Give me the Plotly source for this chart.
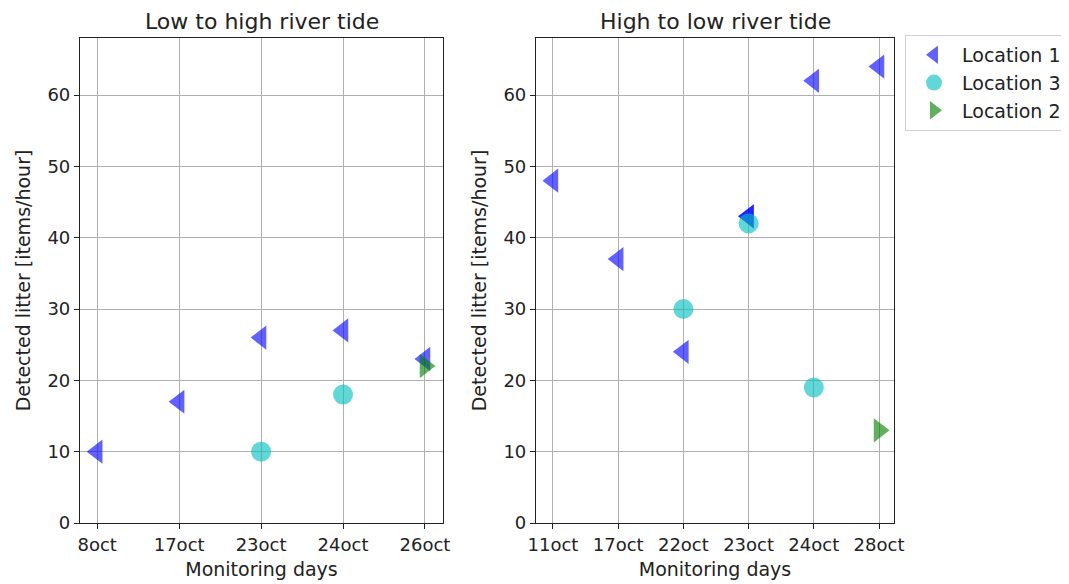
import plotly.graph_objects as go

# ---- data ----
left_days = ["8oct", "17oct", "23oct", "24oct", "26oct"]
right_days = ["11oct", "17oct", "22oct", "23oct", "24oct", "28oct"]

left_loc1_x = ["8oct", "17oct", "23oct", "24oct", "26oct"]
left_loc1_y = [10, 17, 26, 27, 23]
left_loc3_x = ["23oct", "24oct"]
left_loc3_y = [10, 18]
left_loc2_x = ["26oct"]
left_loc2_y = [22]

right_loc1_x = ["11oct", "17oct", "22oct", "23oct", "23oct", "24oct", "28oct"]
right_loc1_y = [48, 37, 24, 43, 43, 62, 64]
right_loc3_x = ["22oct", "23oct", "24oct"]
right_loc3_y = [30, 42, 19]
right_loc2_x = ["28oct"]
right_loc2_y = [13]

y_ticks = [0, 10, 20, 30, 40, 50, 60]

# ---- styles ----
FONT = "DejaVu Sans"
C1 = "rgba(0,0,255,0.62)"
C3 = "rgba(0,191,191,0.62)"
C2 = "rgba(0,128,0,0.62)"
TRI = 21
CIRC = 20

W, H = 1069, 584
OFF = 8  # page body margin

def px_x(p):
    return (p - OFF) / W

def px_y(p):
    return 1 - (p - OFF) / H

fig = go.Figure()

def add(x, y, name, sym, color, size, xa, ya, show):
    fig.add_trace(go.Scatter(
        x=x, y=y, mode="markers", name=name, showlegend=show,
        marker=dict(symbol=sym, color=color, size=size, line=dict(width=0)),
        xaxis=xa, yaxis=ya,
    ))

add(left_loc1_x, left_loc1_y, "Location 1", "triangle-left", C1, TRI, "x", "y", True)
add(left_loc3_x, left_loc3_y, "Location 3", "circle", C3, CIRC, "x", "y", True)
add(left_loc2_x, left_loc2_y, "Location 2", "triangle-right", C2, TRI, "x", "y", True)
add(right_loc1_x, right_loc1_y, "Location 1", "triangle-left", C1, TRI, "x2", "y2", False)
add(right_loc3_x, right_loc3_y, "Location 3", "circle", C3, CIRC, "x2", "y2", False)
add(right_loc2_x, right_loc2_y, "Location 2", "triangle-right", C2, TRI, "x2", "y2", False)

ax_common = dict(
    showline=True, mirror=True, linecolor="#222", linewidth=1.2,
    showgrid=True, gridcolor="#b0b0b0", gridwidth=1,
    ticks="outside", ticklen=5, tickcolor="#222", tickwidth=1,
    tickfont=dict(family=FONT, size=18, color="#222"),
    zeroline=False, automargin=False,
)

y_dom = [px_y(523), px_y(38)]
xt = dict(text="Monitoring days", font=dict(family=FONT, size=19, color="#222"), standoff=8)
yt = dict(text="Detected litter [items/hour]", font=dict(family=FONT, size=19, color="#222"), standoff=11)

title_font = dict(family=FONT, size=22, color="#222")

fig.update_layout(
    width=W, height=H,
    margin=dict(l=0, r=0, t=0, b=0),
    paper_bgcolor="white", plot_bgcolor="white",
    font=dict(family=FONT, color="#222"),
    xaxis=dict(ax_common, type="category", categoryorder="array", categoryarray=left_days,
               range=[-0.21, 4.22], domain=[px_x(80), px_x(443)], anchor="y", title=xt),
    yaxis=dict(ax_common, range=[0, 68], tickvals=y_ticks, domain=y_dom, anchor="x", title=yt),
    xaxis2=dict(ax_common, type="category", categoryorder="array", categoryarray=right_days,
                range=[-0.26, 5.23], domain=[px_x(536), px_x(894)], anchor="y2", title=xt),
    yaxis2=dict(ax_common, range=[0, 68], tickvals=y_ticks, domain=y_dom, anchor="x2", title=yt),
    legend=dict(
        x=px_x(905), y=px_y(35), xanchor="left", yanchor="top",
        bgcolor="white", bordercolor="#d0d0d0", borderwidth=1,
        font=dict(family=FONT, size=19, color="#222"),
        tracegroupgap=0, itemwidth=46,
    ),
    annotations=[
        dict(text="Low to high river tide", x=(px_x(80) + px_x(443)) / 2, y=1.0,
             xref="paper", yref="paper", showarrow=False, xanchor="center", yanchor="top",
             borderpad=0, font=title_font),
        dict(text="High to low river tide", x=(px_x(536) + px_x(894)) / 2, y=1.0,
             xref="paper", yref="paper", showarrow=False, xanchor="center", yanchor="top",
             borderpad=0, font=title_font),
    ],
)

fig.write_html("out.html")
